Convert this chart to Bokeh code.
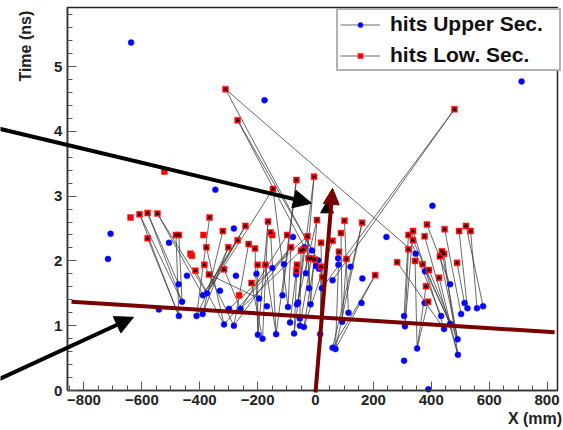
from bokeh.plotting import figure
from bokeh.models import (Range1d, SingleIntervalTicker, Legend, LegendItem, Arrow,
                          NormalHead, Label, ColumnDataSource, LinearAxis)
from bokeh.embed import file_html
from bokeh.resources import INLINE

# ---------------- data (X in mm, time in ns) ----------------
red_x = [-639, -608, -580, -546, -580, -482, -472, -432, -427, -522, -366, -387, -377, -384, -415, -368,
         -320, -316, -301, -242, -269, -231, -209, -164, -155, -150, -200, -173, -221, -264, -98, -85,
         -50, -28, -66, -24, -66, -5, 5, 100, 88, 161, 19, 59, 81, -41, -14, -3, -64, 19, 107, 24, 206,
         282, 321, 337, 337, 377, 385, 446, 496, 520, 536, 321, 437, 444, 430, 344, 370, 489, 392, 427,
         382, 389, -311, -269, -147, 480]
red_t = [2.67, 2.72, 2.74, 2.73, 2.35, 2.40, 2.40, 2.11, 2.08, 3.38, 2.67, 2.40, 2.21, 1.94, 1.85, 1.79,
         2.46, 1.87, 2.21, 2.54, 2.32, 2.26, 2.19, 2.61, 2.44, 2.40, 1.94, 1.94, 1.66, 1.47, 2.40, 2.21,
         2.16, 2.38, 1.85, 2.04, 3.25, 3.30, 2.63, 2.62, 2.43, 2.59, 2.28, 2.31, 2.14, 2.18, 2.04, 2.02,
         1.94, 1.91, 2.03, 1.75, 1.78, 1.98, 2.40, 2.46, 2.32, 2.38, 2.56, 2.49, 2.46, 2.54, 2.46, 2.18,
         2.15, 2.11, 2.07, 2.00, 1.95, 1.97, 1.86, 1.74, 1.61, 1.37, 4.65, 4.17, 3.11, 4.34]

blue_x = [-637, -176, 712, -346, 404, -708, -717, -506, -444, -473, -461, -472, -541, -411, -389, -375,
          -390, -330, -316, -282, -299, -259, -282, -275, -204, -149, -195, -168, -199, -183, -136, -114,
          -109, -95, -88, -74, -67, -60, -54, -78, -33, -22, -38, 245, -12, 9, 2, 12, 78, 79, 121, 162,
          59, 22, -17, 159, 114, -54, -40, 92, 16, 59, 69, 306, 309, 306, 351, 390, 492, 491, 444, 434,
          465, 515, 525, 503, 558, 579, 346, 378, 377, 465, -64]
blue_t = [5.37, 4.48, 4.77, 3.10, 2.85, 2.42, 2.03, 2.28, 1.77, 1.64, 1.37, 1.15, 1.25, 1.15, 1.47, 1.50,
          1.18, 1.54, 1.02, 1.00, 1.26, 1.26, 2.50, 1.77, 1.80, 1.89, 1.42, 1.30, 0.86, 0.80, 0.87, 1.47,
          1.95, 1.29, 1.05, 0.88, 1.79, 1.36, 1.11, 2.37, 1.81, 1.58, 2.21, 2.37, 2.16, 2.01, 1.92, 1.88,
          2.04, 1.94, 1.91, 1.73, 1.70, 1.58, 1.33, 1.35, 1.20, 1.00, 0.98, 1.06, 0.87, 0.66, 0.64, 1.15,
          0.99, 0.46, 0.65, 0.02, 0.55, 0.79, 0.95, 1.15, 1.64, 1.35, 1.27, 1.18, 1.27, 1.30, 2.11, 1.84,
          1.35, 1.03, 1.33]

# links: lower-section hit index -> upper-section hit index
link_red = [1, 1, 2, 2, 3, 3, 4, 5, 6, 10, 16, 18, 18, 12, 13, 14, 15, 17, 19, 19, 20, 21, 22, 23, 23,
            24, 26, 27, 28, 30, 31, 31, 33, 32, 74, 74, 75, 75, 76, 76, 77, 77, 31, 48, 32, 45, 46, 47,
            49, 51, 35, 42, 34, 33, 38, 38, 37, 36, 39, 40, 41, 41, 43, 44, 50, 52, 52, 37, 36,
            53, 54, 55, 56, 58, 57, 59, 60, 61, 62, 63, 64, 65, 66, 67, 68, 69, 70, 71, 72, 73, 54, 55]
link_blue = [11, 10, 10, 9, 15, 14, 11, 11, 10, 13, 16, 16, 13, 18, 19, 18, 26, 21, 14, 15, 14, 19, 28,
             29, 28, 30, 28, 30, 29, 21, 18, 19, 20, 21, 78, 44, 42, 45, 15, 33, 52, 53, 33, 35, 38, 37,
             57, 58, 60, 60, 54, 53, 34, 41, 82, 54, 40, 31, 56, 59, 61, 62, 58, 62, 59, 61, 62, 35, 30,
             70, 63, 64, 81, 72, 68, 75, 74, 77, 76, 64, 69, 68, 69, 66, 81, 73, 69, 68, 66, 66, 71, 70]

# overlay annotations (data units)
black_arrow_start_x = [-1130, -1130]
black_arrow_start_t = [4.08, 0.10]
black_arrow_end_x = [-14, -629]
black_arrow_end_t = [2.89, 1.13]
red_line_x = [-843, 826]
red_line_t = [1.37, 0.90]
red_arrow_x = [0, 59]
red_arrow_t = [-0.03, 3.12]
shadow_x = [40]
shadow_t = [2.80]

# plot box (axis extent) and the canvas extent around it (for the outside annotations)
x_lo, x_hi = -857, 836
t_lo, t_hi = 0, 5.91
canvas_x = (-1088.3, 856.8)
canvas_t = (-0.617, 6.0185)

FONT = "Liberation Sans"

p = figure(width=563, height=430, output_backend="svg", toolbar_location=None,
           x_range=Range1d(*canvas_x), y_range=Range1d(*canvas_t),
           x_axis_location=None, y_axis_location=None,
           min_border=0, min_border_left=0, min_border_right=0,
           min_border_top=0, min_border_bottom=0)
p.title.visible = False
p.background_fill_color = "white"
p.border_fill_color = "white"
p.outline_line_color = None
p.xgrid.visible = False
p.ygrid.visible = False

# plot box
p.quad(left=[x_lo], right=[x_hi], bottom=[t_lo], top=[t_hi], fill_color=None,
       line_color="#222222", line_width=1.5)

xaxis = LinearAxis(fixed_location=t_lo, bounds=(x_lo, x_hi),
                   ticker=SingleIntervalTicker(interval=200, num_minor_ticks=4))
yaxis = LinearAxis(fixed_location=x_lo, bounds=(t_lo, t_hi),
                   ticker=SingleIntervalTicker(interval=1, num_minor_ticks=5))
for ax in (xaxis, yaxis):
    ax.major_tick_in = 9
    ax.major_tick_out = 0
    ax.minor_tick_in = 5
    ax.minor_tick_out = 0
    ax.axis_line_color = "#333333"
    ax.axis_line_width = 1.5
    ax.major_tick_line_color = "#555555"
    ax.minor_tick_line_color = "#555555"
    ax.major_label_text_font = FONT
    ax.major_label_text_font_style = "bold"
    ax.major_label_text_font_size = "15px"
    ax.major_label_text_color = "#222222"
xaxis.major_label_standoff = 4
yaxis.major_label_standoff = 5
p.add_layout(xaxis, "below")
p.add_layout(yaxis, "left")

# tracks
src = ColumnDataSource(dict(
    x0=[red_x[i] for i in link_red], t0=[red_t[i] for i in link_red],
    x1=[blue_x[j] for j in link_blue], t1=[blue_t[j] for j in link_blue]))
seg_r = p.segment(x0="x0", y0="t0", x1="x1", y1="t1", source=src, line_color="#3a3a3a",
                  line_width=0.9, line_alpha=0.85)

blue_r = p.scatter(blue_x, blue_t, marker="circle", size=6, fill_color="#0000ff",
                   line_color="#2222ff", line_width=0.5)
red_r = p.scatter(red_x, red_t, marker="square", size=6, fill_color="#ff0000",
                  line_color="#ff2222", line_width=0.5)
linked = sorted(set(link_red))
p.scatter([red_x[i] for i in linked], [red_t[i] for i in linked], marker="triangle",
          size=3, fill_color="black", line_color="black")

legend = Legend(items=[
    LegendItem(label="hits Upper Sec.", renderers=[seg_r, blue_r]),
    LegendItem(label="hits Low. Sec.", renderers=[seg_r, red_r]),
], location=(336, 359))
legend.label_text_font = FONT
legend.label_text_font_style = "bold"
legend.label_text_font_size = "21px"
legend.label_text_color = "#111111"
legend.label_height = 24
legend.glyph_height = 13
legend.glyph_width = 40
legend.label_standoff = 10
legend.label_width = 167
legend.padding = 2
legend.spacing = 7
legend.margin = 0
legend.border_line_color = "#666666"
legend.border_line_width = 2
legend.background_fill_color = "white"
legend.background_fill_alpha = 1.0
p.add_layout(legend)

# overlay: dark red line and arrows
p.line(red_line_x, red_line_t, line_color="#7a0000", line_width=4)
p.scatter(shadow_x, shadow_t, marker="triangle", size=13, fill_color="black", line_color="black")
p.add_layout(Arrow(end=NormalHead(size=16, fill_color="#7a0000", line_color="#7a0000"),
                   x_start=red_arrow_x[0], y_start=red_arrow_t[0],
                   x_end=red_arrow_x[1], y_end=red_arrow_t[1],
                   line_color="#7a0000", line_width=4))
for i in range(2):
    p.add_layout(Arrow(end=NormalHead(size=18, fill_color="black", line_color="black"),
                       x_start=black_arrow_start_x[i], y_start=black_arrow_start_t[i],
                       x_end=black_arrow_end_x[i], y_end=black_arrow_end_t[i],
                       line_color="black", line_width=4))

# axis titles
p.add_layout(Label(x=-1002, y=5.86, text="Time (ns)", angle=90, angle_units="deg",
                   text_align="right", text_baseline="middle", text_font=FONT,
                   text_font_style="bold", text_font_size="16px", text_color="#222222"))
p.add_layout(Label(x=852, y=-0.43, text="X (mm)", text_align="right", text_baseline="middle",
                   text_font=FONT, text_font_style="bold", text_font_size="16px",
                   text_color="#222222"))

open("out.html", "w").write(file_html(p, INLINE))
